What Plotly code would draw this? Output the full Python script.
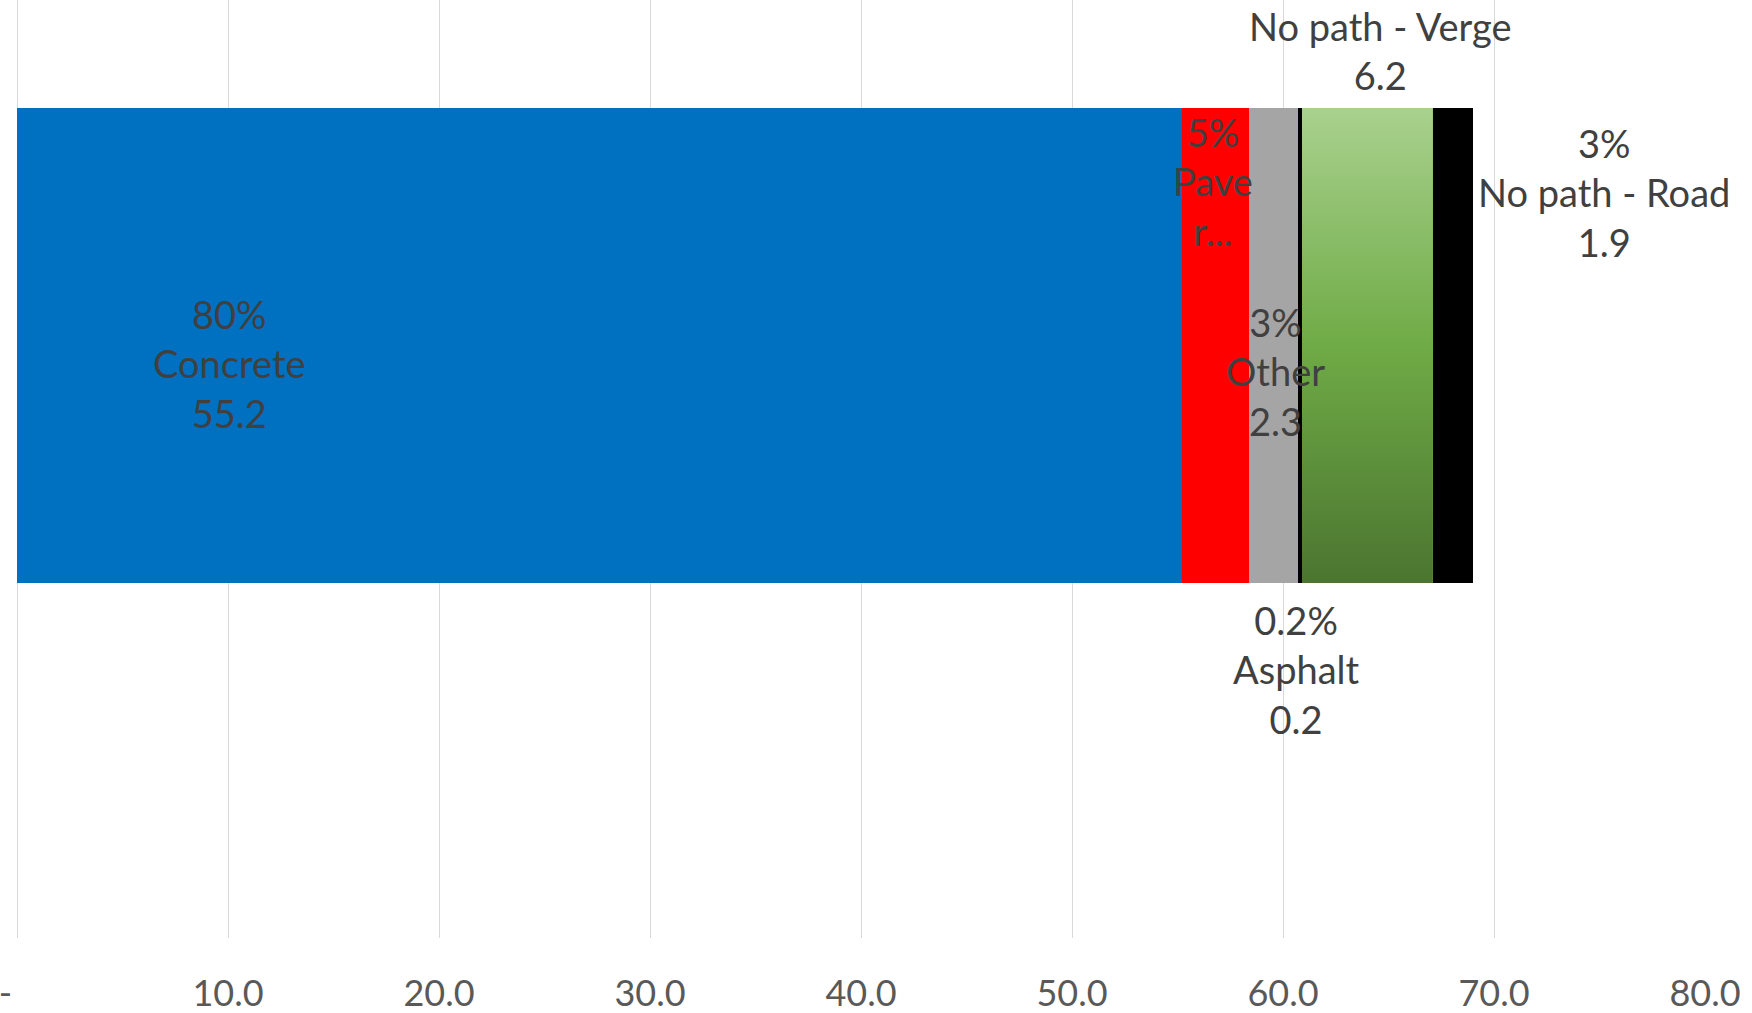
import plotly.graph_objects as go

# Surface types along the route, in stacking order (km)
surfaces = ["Concrete", "Paver", "Other", "Asphalt", "No path - Verge", "No path - Road"]
lengths = [55.2, 3.2, 2.3, 0.2, 6.2, 1.9]
share_labels = ["80%", "5%", "3%", "0.2%", "", "3%"]

# Axis ticks (zero shown as an accounting-style dash)
tick_values = [0, 10, 20, 30, 40, 50, 60, 70, 80]
tick_labels = ["-\u00a0\u00a0\u2009", "10.0", "20.0", "30.0", "40.0", "50.0", "60.0", "70.0", "80.0"]

# Styling
colors = ["#0070c0", "#ff0000", "#a5a5a5", "#000000", "#70ad47", "#000000"]
verge_gradient = [[0.0, "#4b7530"], [0.5, "#6fab46"], [1.0, "#a9d18e"]]
# The narrow paver segment gets a wrapped, truncated label
truncated_labels = {"Paver": "Pave<br>r..."}
# Label anchor points (x in km, y in bar units where the bar spans -0.5..0.5)
label_pos = [(10.06, -0.037), (56.7, 0.346), (59.63, -0.054), (60.63, -0.683),
             (64.6, 0.622), (75.2, 0.323)]

FONT = "Lato"
TEXT_COLOR = "#404040"

fig = go.Figure()

for name, val, col in zip(surfaces, lengths, colors):
    fig.add_trace(go.Bar(
        x=[val], y=[0], orientation="h", width=1,
        marker=dict(color=col, line=dict(width=0)),
        name=name, showlegend=False, hoverinfo="x+name",
    ))

# Gradient overlay for the verge segment, built from the cumulative lengths
idx = surfaces.index("No path - Verge")
x0 = sum(lengths[:idx])
x1 = x0 + lengths[idx]
fig.add_trace(go.Scatter(
    x=[x0, x1, x1, x0, x0], y=[-0.5, -0.5, 0.5, 0.5, -0.5],
    mode="lines", line=dict(width=0), fill="toself",
    fillcolor="#70ad47",
    fillgradient=dict(type="vertical", colorscale=verge_gradient),
    showlegend=False, hoverinfo="skip",
))

# Data labels: share, name, value
for name, val, pct, (lx, ly) in zip(surfaces, lengths, share_labels, label_pos):
    parts = []
    if pct:
        parts.append(pct)
    if name in truncated_labels:
        parts.append(truncated_labels[name])
    else:
        parts.append(name)
        parts.append(f"{val:.1f}")
    fig.add_annotation(
        x=lx, y=ly, xref="x", yref="y", text="<br>".join(parts),
        showarrow=False, xanchor="center", yanchor="middle",
        font=dict(family=FONT, size=38, color=TEXT_COLOR),
    )

fig.update_layout(
    width=1752, height=1013,
    margin=dict(l=16.7, r=47.3, t=0, b=75),
    paper_bgcolor="white", plot_bgcolor="white",
    barmode="stack",
    xaxis=dict(
        range=[0, 80], tickvals=tick_values, ticktext=tick_labels,
        showgrid=True, gridcolor="#d9d9d9", gridwidth=1.3,
        zeroline=True, zerolinecolor="#d9d9d9", zerolinewidth=1.3,
        showline=False, ticks="",
        tickfont=dict(family=FONT, size=36, color="#595959"),
        ticklabelstandoff=31, ticklabeloverflow="allow",
        automargin=False,
    ),
    yaxis=dict(range=[-1.2474, 0.7274], visible=False, showgrid=False),
)

fig.write_html("out.html")
